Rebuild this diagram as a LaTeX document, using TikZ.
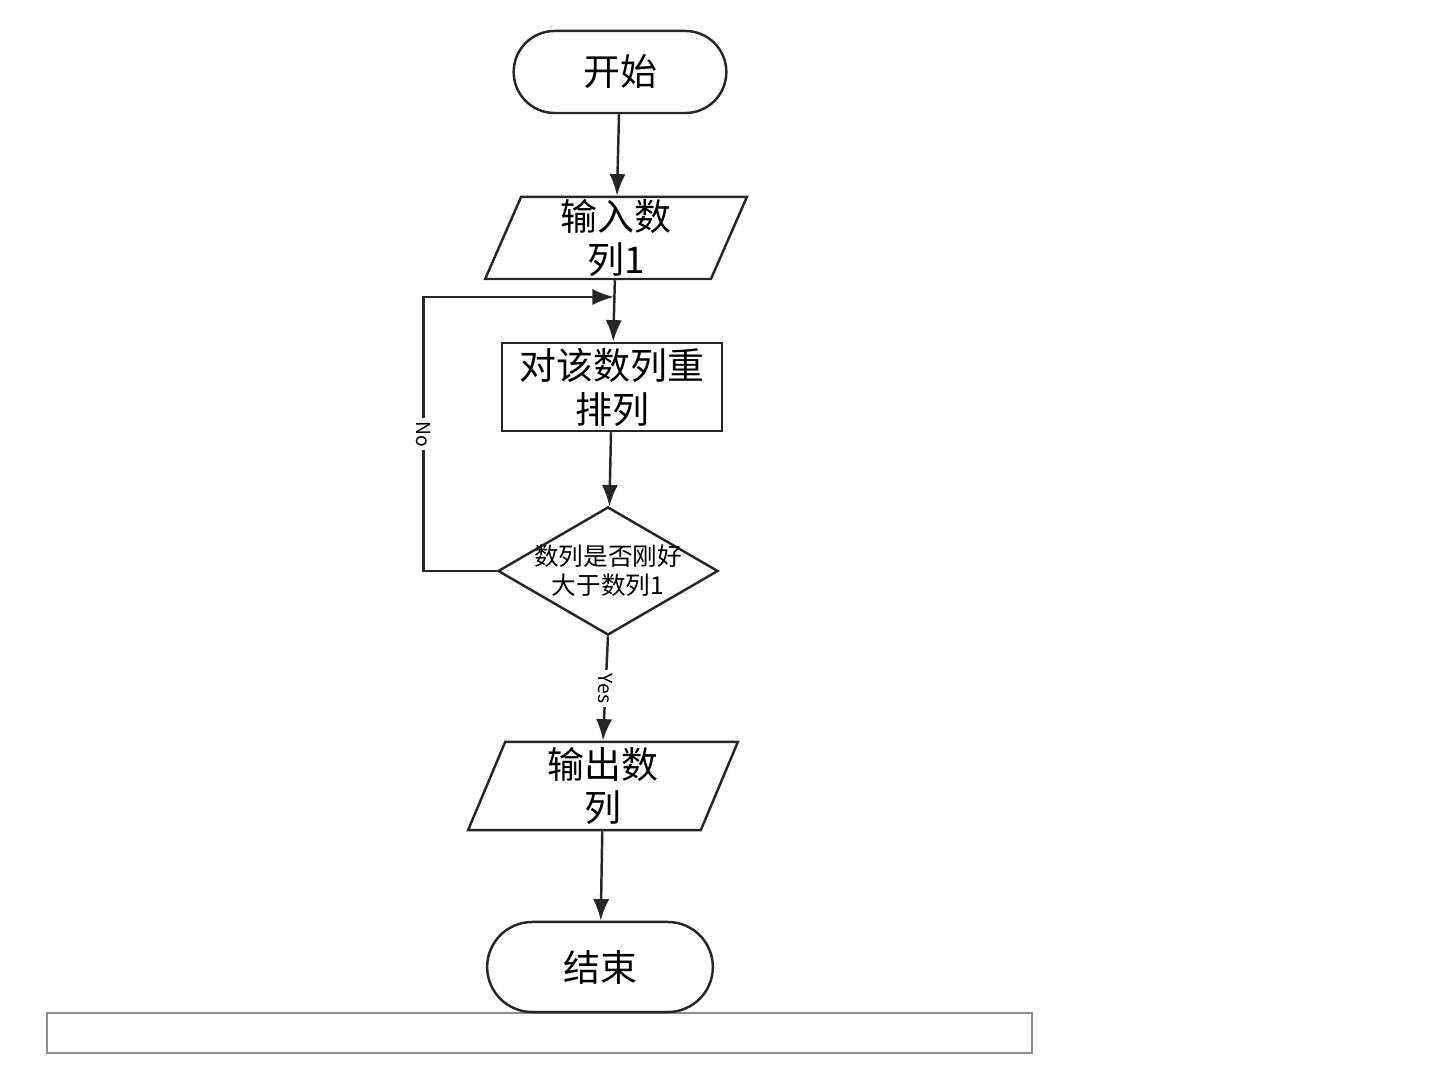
\documentclass[tikz,border=0pt]{standalone}
\usepackage{fontspec}
\setmainfont{Noto Sans CJK SC}
\usepackage{tikz}
\usetikzlibrary{arrows.meta,shapes.geometric,shapes.misc}

\begin{document}
\begin{tikzpicture}[
    x=0.01cm, y=-0.01cm,
    >=Latex,
    terminal/.style={
      draw=black!85,
      rounded rectangle,
      line width=0.7pt,
      fill=white,
      minimum width=2.36cm,
      minimum height=0.82cm,
      font=\fontsize{10.5}{12}\selectfont
    },
    io/.style={
      draw=black!85,
      trapezium,
      trapezium left angle=75,
      trapezium right angle=105,
      trapezium stretches=true,
      line width=0.7pt,
      align=center,
      inner sep=0pt,
      minimum width=2.62cm,
      minimum height=0.82cm,
      font=\fontsize{10.5}{12.5}\selectfont
    },
    process/.style={
      draw=black!85,
      line width=0.7pt,
      align=center,
      inner sep=0pt,
      minimum width=2.2cm,
      minimum height=0.88cm,
      font=\fontsize{10.5}{12.5}\selectfont
    },
    decision/.style={
      draw=black!85,
      diamond,
      aspect=1.72,
      line width=0.7pt,
      align=center,
      inner sep=-3pt,
      minimum width=2.2cm,
      minimum height=1.28cm,
      font=\fontsize{7}{8.2}\selectfont
    },
    tag/.style={fill=white, inner sep=1pt, rotate=-90, font=\fontsize{5.5}{6}\selectfont},
    flow/.style={->, line width=0.7pt, draw=black!85}
  ]
    \useasboundingbox (0,0) rectangle (1440,1080);
    \draw[draw=black!45, line width=0.4pt] (47,1013) rectangle (1032,1053);

    \node[terminal] (start) at (620,72) {开始};
    \node[io] (input) at (616,238) {输入数\\列1};
    \node[process] (sort) at (612,387) {对该数列重\\排列};
    \node[decision] (check) at (608,571) {数列是否刚好\\大于数列1};
    \node[io, minimum width=2.7cm, minimum height=0.88cm] (output) at (603,786) {输出数\\列};
    \node[terminal, minimum width=2.49cm, minimum height=0.9cm] (stop) at (600,967) {结束};
    \coordinate (join) at (614,297);

    \draw[flow] (start) -- (input);
    \draw[flow] (input) -- (sort);
    \draw[flow] (sort) -- (check);
    \draw[flow] (check.west) -- ++(-73,0) |- node[tag, pos=0.25] {No} (join);
    \draw[flow] (check.south) -- node[tag] {Yes} (output.north);
    \draw[flow] (output) -- (stop);
  \end{tikzpicture}
\end{document}
